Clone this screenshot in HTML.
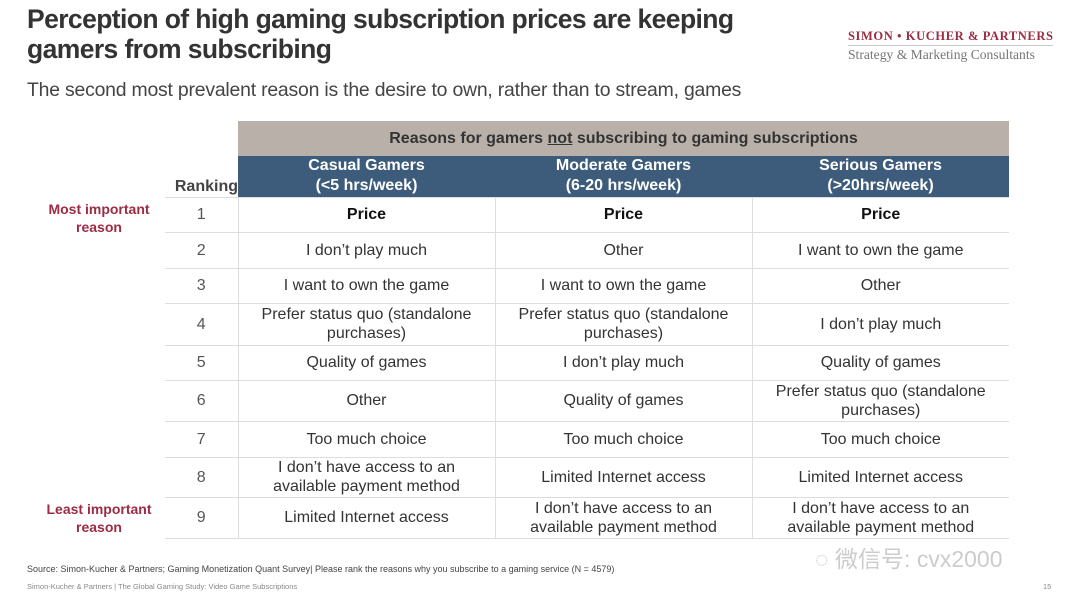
<!DOCTYPE html>
<html><head><meta charset="utf-8"><style>
body{margin:0;width:1080px;height:604px;background:#fff;font-family:"Liberation Sans",sans-serif;position:relative;overflow:hidden;color:#222}
.a{position:absolute}
h1{position:absolute;left:27px;top:4px;margin:0;font-size:26.5px;line-height:30px;font-weight:bold;color:#333;letter-spacing:-0.6px}
.sub{left:27px;top:79px;font-size:19.4px;color:#444;letter-spacing:-0.2px}
.logo1{left:848px;top:29px;font-family:"Liberation Serif",serif;font-size:12.5px;font-weight:bold;color:#9b2c44;letter-spacing:0.6px}
.logoline{left:848px;top:45px;width:205px;height:1px;background:#ccc}
.logo2{left:848px;top:47px;font-family:"Liberation Serif",serif;font-size:13.6px;color:#777}
table{position:absolute;left:165px;top:121px;border-collapse:collapse;table-layout:fixed}
td{text-align:center;font-size:16px;color:#333;border-top:1px solid #ddd;border-left:1px solid #ddd;padding:0 16px;line-height:19px}
td.r{border-left:none;color:#555;padding:0}
.g{background:#b9b1a9;color:#333;font-weight:bold;font-size:16px;height:35px;border:none}
.b{background:#3d5b7b;color:#fff;font-weight:bold;font-size:16px;border:none;border-left:none;line-height:20px}
.rk{font-weight:bold;font-size:16px;color:#444;vertical-align:bottom;border:none;text-align:right;padding:0 0 1px 0}
.p{font-weight:bold;color:#111}
.side{font-size:14px;font-weight:bold;color:#9b2c44;text-align:center;width:120px;line-height:18px}
.foot{font-size:9px;color:#444}
.foot2{font-size:7.5px;color:#888}
</style></head><body>
<h1>Perception of high gaming subscription prices are keeping<br>gamers from subscribing</h1>
<div class="a sub">The second most prevalent reason is the desire to own, rather than to stream, games</div>
<div class="a logo1">SIMON • KUCHER &amp; PARTNERS</div>
<div class="a logoline"></div>
<div class="a logo2">Strategy &amp; Marketing Consultants</div>
<div class="a side" style="left:39px;top:200px">Most important reason</div>
<div class="a side" style="left:39px;top:500px">Least important reason</div>
<table>
<colgroup><col style="width:73px"><col style="width:257px"><col style="width:257px"><col style="width:257px"></colgroup>
<tr><td class="rk" style="border:none"></td><td colspan="3" class="g">Reasons for gamers <u>not</u> subscribing to gaming subscriptions</td></tr>
<tr style="height:41px"><td class="rk">Ranking</td>
<td class="b">Casual Gamers<br>(&lt;5 hrs/week)</td>
<td class="b">Moderate Gamers<br>(6-20 hrs/week)</td>
<td class="b">Serious Gamers<br>(&gt;20hrs/week)</td></tr>
<tr style="height:35px"><td class="r">1</td><td class="p">Price</td><td class="p">Price</td><td class="p">Price</td></tr>
<tr style="height:36px"><td class="r">2</td><td>I don’t play much</td><td>Other</td><td>I want to own the game</td></tr>
<tr style="height:35px"><td class="r">3</td><td>I want to own the game</td><td>I want to own the game</td><td>Other</td></tr>
<tr style="height:42px"><td class="r">4</td><td>Prefer status quo (standalone purchases)</td><td>Prefer status quo (standalone purchases)</td><td>I don’t play much</td></tr>
<tr style="height:35px"><td class="r">5</td><td>Quality of games</td><td>I don’t play much</td><td>Quality of games</td></tr>
<tr style="height:41px"><td class="r">6</td><td>Other</td><td>Quality of games</td><td>Prefer status quo (standalone purchases)</td></tr>
<tr style="height:36px"><td class="r">7</td><td>Too much choice</td><td>Too much choice</td><td>Too much choice</td></tr>
<tr style="height:40px"><td class="r">8</td><td>I don’t have access to an<br>available payment method</td><td>Limited Internet access</td><td>Limited Internet access</td></tr>
<tr style="height:41px;border-bottom:1px solid #ddd"><td class="r">9</td><td>Limited Internet access</td><td>I don’t have access to an<br>available payment method</td><td>I don’t have access to an<br>available payment method</td></tr>
</table>
<div class="a" style="left:815px;top:540px;font-size:23px;color:#ccc;font-family:'Liberation Sans','Noto Sans CJK SC',sans-serif">◌ 微信号: cvx2000</div>
<div class="a foot" style="left:27px;top:564px">Source: Simon-Kucher &amp; Partners; Gaming Monetization Quant Survey| Please rank the reasons why you subscribe to a gaming service (N = 4579)</div>
<div class="a foot2" style="left:27px;top:582px">Simon-Kucher &amp; Partners | The Global Gaming Study: Video Game Subscriptions</div>
<div class="a foot2" style="left:1043px;top:582px">15</div>
</body></html>
